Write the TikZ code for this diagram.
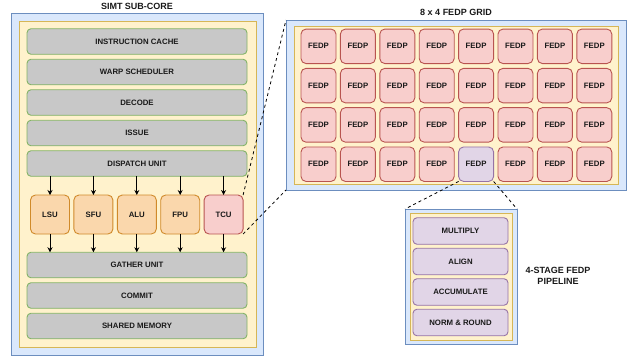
\documentclass[tikz,border=0pt]{standalone}
\usepackage{fontspec}
\setmainfont{Liberation Sans}
\usetikzlibrary{arrows.meta}
\definecolor{bluefill}{HTML}{DAE8FC}
\definecolor{bluedraw}{HTML}{6C8EBF}
\definecolor{yelfill}{HTML}{FFF2CC}
\definecolor{yeldraw}{HTML}{D6B656}
\definecolor{grayfill}{HTML}{C8C8C8}
\definecolor{greendraw}{HTML}{82B366}
\definecolor{orfill}{HTML}{FAD7AC}
\definecolor{ordraw}{HTML}{D08A2A}
\definecolor{pinkfill}{HTML}{F8CECC}
\definecolor{pinkdraw}{HTML}{B85450}
\definecolor{purfill}{HTML}{E1D5E7}
\definecolor{purdraw}{HTML}{9673A6}
\tikzset{
  every node/.style={inner sep=0pt, outer sep=0pt},
  boxtext/.style={font=\fontsize{7.8}{9}\selectfont\bfseries, text=black!90},
  titletext/.style={font=\fontsize{9}{11}\selectfont\bfseries, text=black!90, align=center},
  outerbox/.style={draw=bluedraw, fill=bluefill, line width=0.9pt},
  innerbox/.style={draw=yeldraw, fill=yelfill, line width=0.9pt},
  bar/.style={boxtext, draw=greendraw, fill=grayfill, line width=0.9pt, rounded corners=4pt, minimum width=220pt, minimum height=25.5pt},
  unitbox/.style={boxtext, draw=ordraw, fill=orfill, line width=0.9pt, rounded corners=5pt, minimum width=39pt, minimum height=39pt},
  tcubox/.style={unitbox, draw=pinkdraw, fill=pinkfill},
  cellbox/.style={boxtext, draw=pinkdraw, fill=pinkfill, line width=0.9pt, rounded corners=5pt, minimum width=35pt, minimum height=34.5pt},
  selcell/.style={cellbox, draw=purdraw, fill=purfill},
  stagebox/.style={boxtext, draw=purdraw, fill=purfill, line width=0.9pt, rounded corners=4pt, minimum width=95pt, minimum height=26.5pt},
  flow/.style={-{Stealth[length=5pt,width=5pt]}, line width=0.8pt, black},
  zoomline/.style={dash pattern=on 3pt off 3pt, line width=0.8pt, black},
}
\begin{document}
\begin{tikzpicture}[x=1pt, y=-1pt]
\useasboundingbox (0,0) rectangle (641,360);
% SIMT sub-core
\node[titletext] (simttitle) at (137,6) {SIMT SUB-CORE};
\node[outerbox, minimum width=252pt, minimum height=342pt] (simtouter) at (137,184) {};
\node[innerbox, minimum width=237pt, minimum height=326pt] (simtinner) at (137.5,184) {};
\node[bar] (icache) at (137,41.5) {INSTRUCTION CACHE};
\node[bar] (warp) at (137,72) {WARP SCHEDULER};
\node[bar] (decode) at (137,102.5) {DECODE};
\node[bar] (issue) at (137,133) {ISSUE};
\node[bar] (disp) at (137,163.5) {DISPATCH UNIT};
\node[unitbox] (lsu) at (50,214.5) {LSU};
\node[unitbox] (sfu) at (93.4,214.5) {SFU};
\node[unitbox] (alu) at (136.8,214.5) {ALU};
\node[unitbox] (fpu) at (180.2,214.5) {FPU};
\node[tcubox] (tcu) at (223.6,214.5) {TCU};
\node[bar] (gather) at (137,265) {GATHER UNIT};
\node[bar] (commit) at (137,295.5) {COMMIT};
\node[bar] (shmem) at (137,326) {SHARED MEMORY};
\foreach \u in {lsu,sfu,alu,fpu,tcu}{
  \draw[flow] (disp.south -| \u) -- (\u.north);
  \draw[flow] (\u.south) -- (gather.north -| \u);
}
% FEDP grid
\node[titletext] (gridtitle) at (456,12.5) {8 x 4 FEDP GRID};
\node[outerbox, minimum width=340pt, minimum height=170pt] (gridouter) at (456,105) {};
\node[innerbox, minimum width=324pt, minimum height=158pt] (gridinner) at (456,105) {};
\foreach \j in {0,...,3}{
  \foreach \i in {0,...,7}{
    \ifnum\i=4 \ifnum\j=3
      \node[selcell] (cell-\i-\j) at ({318.5+39.4*\i},{46.3+39.3*\j}) {FEDP};
    \else
      \node[cellbox] (cell-\i-\j) at ({318.5+39.4*\i},{46.3+39.3*\j}) {FEDP};
    \fi\else
      \node[cellbox] (cell-\i-\j) at ({318.5+39.4*\i},{46.3+39.3*\j}) {FEDP};
    \fi
  }
}
% Pipeline
\node[outerbox, minimum width=112pt, minimum height=135pt] (pipeouter) at (461,276.5) {};
\node[innerbox, minimum width=102pt, minimum height=127pt] (pipeinner) at (461,276.5) {};
\node[stagebox] (mult) at (460.5,231) {MULTIPLY};
\node[stagebox] (align) at (460.5,261.5) {ALIGN};
\node[stagebox] (accum) at (460.5,292) {ACCUMULATE};
\node[stagebox] (norm) at (460.5,322.5) {NORM \& ROUND};
\node[titletext] (pipetitle) at (558,276) {4-STAGE FEDP\\PIPELINE};
% zoom connectors
\draw[zoomline] (tcu.north east) -- (gridouter.north west);
\draw[zoomline] (tcu.south east) -- (gridouter.south west);
\draw[zoomline] (cell-4-3.south west) -- (pipeouter.north west);
\draw[zoomline] (cell-4-3.south east) -- (pipeouter.north east);
\end{tikzpicture}
\end{document}
